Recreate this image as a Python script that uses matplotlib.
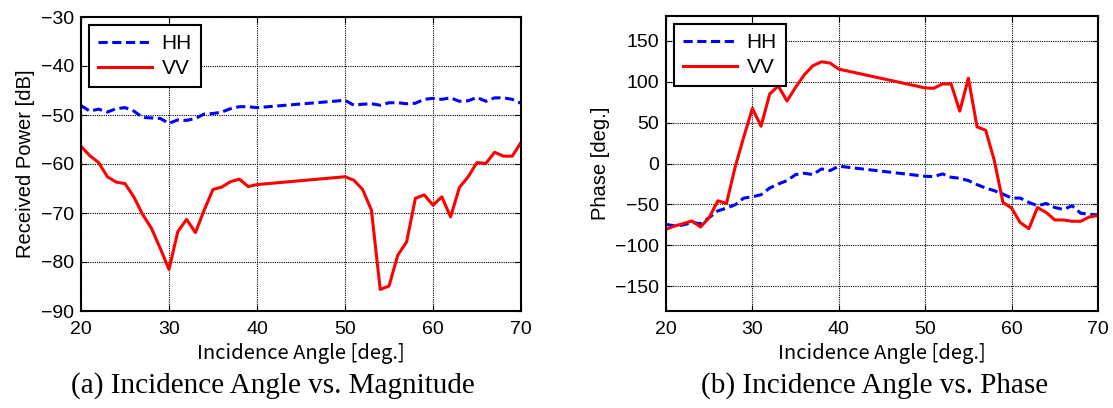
import matplotlib
matplotlib.use("Agg")
import matplotlib.pyplot as plt
import numpy as np

angles = [20, 21, 22, 23, 24, 25, 26, 27, 28, 29, 30, 31, 32, 33, 34, 35, 36, 37, 38, 39, 40,
          50, 51, 52, 53, 54, 55, 56, 57, 58, 59, 60, 61, 62, 63, 64, 65, 66, 67, 68, 69, 70]

mag_hh = [-48.1, -49.2, -48.8, -49.4, -48.7, -48.5, -49.2, -50.5, -50.6, -50.7, -51.7,
          -51.0, -51.1, -50.7, -49.8, -49.7, -49.4, -48.7, -48.3, -48.3, -48.5,
          -47.0, -48.0, -47.8, -47.7, -48.0, -47.5, -47.5, -47.7, -47.6, -46.8, -46.6,
          -46.8, -46.5, -47.2, -47.1, -46.4, -47.2, -46.5, -46.5, -46.8, -47.6]
mag_vv = [-56.4, -58.3, -59.7, -62.6, -63.7, -64.0, -66.7, -70.3, -73.1, -77.2, -81.5,
          -73.8, -71.3, -74.0, -69.4, -65.2, -64.7, -63.6, -63.1, -64.6, -64.2,
          -62.6, -63.3, -65.2, -69.4, -85.6, -84.9, -78.6, -75.9, -67.0, -66.3, -68.4,
          -66.7, -70.8, -64.8, -62.6, -59.7, -59.9, -57.6, -58.4, -58.4, -55.6]

ph_hh = [-74.2, -76.2, -75.0, -72.0, -73.4, -66.0, -57.8, -54.5, -50.4, -42.2, -40.6,
         -38.1, -29.9, -25.0, -20.9, -13.5, -11.9, -13.5, -6.6, -8.6, -3.3,
         -15.6, -16.0, -12.7, -16.8, -18.0, -20.9, -25.8, -29.9, -33.2, -37.3, -42.2,
         -42.2, -47.5, -51.6, -48.8, -53.7, -56.1, -51.6, -60.7, -61.9, -62.7]
ph_vv = [-80.3, -76.2, -73.4, -70.1, -77.5, -66.0, -45.5, -48.8, -4.5, 32.4, 67.2,
         45.5, 84.8, 94.7, 76.2, 93.0, 108.2, 119.3, 124.2, 122.5, 115.2,
         92.2, 91.8, 97.1, 97.1, 63.9, 104.1, 44.7, 40.6, 3.7, -47.5, -54.5,
         -72.1, -79.5, -53.7, -59.8, -68.9, -68.9, -70.5, -70.5, -65.2, -63.5]

series_labels = ["HH", "VV"]
xlabel = "Incidence Angle [deg.]"
ylabels = ["Received Power [dB]", "Phase [deg.]"]
captions = ["(a) Incidence Angle vs. Magnitude", "(b) Incidence Angle vs. Phase"]

sans = ["Liberation Sans Narrow", "Liberation Sans", "DejaVu Sans"]
plt.rcParams['font.family'] = sans

fig = plt.figure(figsize=(11.13, 4.08), dpi=100)
W, H = 1113, 408

def make_ax(x0, x1, y0, y1):
    return fig.add_axes([x0 / W, 1 - y1 / H, (x1 - x0) / W, (y1 - y0) / H])

ax1 = make_ax(81, 521, 17, 311)
ax2 = make_ax(666, 1098, 16, 311)

def style(ax):
    ax.grid(True, color='black', linestyle=(0, (1, 1)), linewidth=0.8)
    ax.tick_params(direction='in', top=True, right=True, labelsize=14, length=4, width=0.8)
    ax.tick_params(axis='x', pad=7)
    ax.tick_params(axis='y', pad=5)
    for s in ax.spines.values():
        s.set_linewidth(1.5)
    ax.set_xlim(20, 70)
    ax.set_xticks([20, 30, 40, 50, 60, 70])
    ax.set_xlabel(xlabel, fontsize=14.5, family=["Noto Sans CJK JP", "DejaVu Sans"], labelpad=4)

for ax, hh, vv in [(ax1, mag_hh, mag_vv), (ax2, ph_hh, ph_vv)]:
    ax.plot(angles, hh, color='blue', linestyle=(0, (3, 1.5)), linewidth=2.2, label=series_labels[0])
    ax.plot(angles, vv, color='red', linestyle='-', linewidth=2.2, label=series_labels[1])
    style(ax)
    leg = ax.legend(loc='upper left', fontsize=15, frameon=True, fancybox=False,
                    edgecolor='black', handlelength=2.6, borderaxespad=0.4,
                    handletextpad=0.45, labelspacing=0.3, borderpad=0.42)
    leg.get_frame().set_linewidth(1.5)
    leg.get_frame().set_alpha(1)

ax1.set_ylim(-90, -30)
ax1.set_yticks(np.arange(-90, -29, 10))
ax1.set_ylabel(ylabels[0], fontsize=14.5, labelpad=4)

ax2.set_ylim(-180, 180)
ax2.set_yticks(np.arange(-150, 151, 50))
ax2.set_ylabel(ylabels[1], fontsize=14.5, labelpad=4)

fig.text(273 / W, 1 - 386 / H, captions[0], ha='center', va='center', fontsize=21,
         family=["Liberation Serif", "DejaVu Serif"])
fig.text(875 / W, 1 - 386 / H, captions[1], ha='center', va='center', fontsize=21,
         family=["Liberation Serif", "DejaVu Serif"])

fig.savefig("out.png", dpi=100)
